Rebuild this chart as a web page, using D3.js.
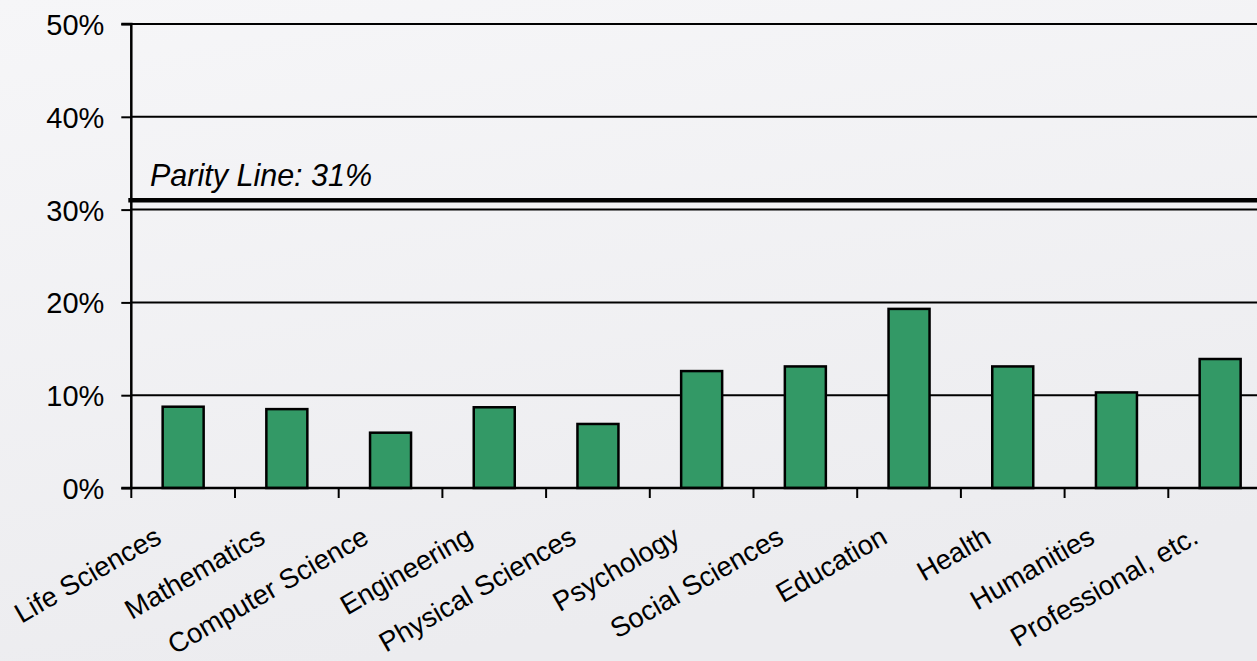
<!DOCTYPE html>
<html>
<head>
<meta charset="utf-8">
<script src="https://cdn.jsdelivr.net/npm/d3@7/dist/d3.min.js"></script>
<style>
  html, body { margin: 0; padding: 0; overflow: hidden; }
  body { width: 1257px; height: 661px; }
  svg { display: block; font-family: "Liberation Sans", Arial, sans-serif; }
</style>
</head>
<body>
<svg id="chart" width="1257" height="661"></svg>
<script>
// Field categories and their share (%)
const categories = [
  "Life Sciences", "Mathematics", "Computer Science", "Engineering",
  "Physical Sciences", "Psychology", "Social Sciences", "Education",
  "Health", "Humanities", "Professional, etc."
];
const shares = [8.76, 8.5, 5.96, 8.7, 6.9, 12.6, 13.1, 19.3, 13.1, 10.3, 13.9];
const yTicks = [0, 10, 20, 30, 40, 50];
const parityValue = 31;
const parityLabel = "Parity Line: 31%";

const svg = d3.select("#chart");
const W = 1257, H = 661;

// soft grey backdrop
const defs = svg.append("defs");
const grad = defs.append("linearGradient").attr("id", "bg")
  .attr("x1", 0).attr("y1", 0).attr("x2", 0.3).attr("y2", 1);
grad.append("stop").attr("offset", "0%").attr("stop-color", "#f6f6f8");
grad.append("stop").attr("offset", "100%").attr("stop-color", "#ececef");
svg.append("rect").attr("width", W).attr("height", H).attr("fill", "url(#bg)");

const plotLeft = 131.3, plotTop = 24, plotBottom = 488;
const step = 103.7;

const x = d3.scaleBand()
  .domain(categories)
  .range([plotLeft, plotLeft + step * categories.length])
  .paddingInner(0).paddingOuter(0);

const y = d3.scaleLinear().domain([0, 50]).range([plotBottom, plotTop]);

const g = svg.append("g");

// horizontal gridlines
g.selectAll("line.grid")
  .data(yTicks.filter(d => d > 0))
  .join("line")
  .attr("class", "grid")
  .attr("x1", plotLeft).attr("x2", W + 20)
  .attr("y1", d => y(d)).attr("y2", d => y(d))
  .attr("stroke", "#000").attr("stroke-width", 2);

// bars
const barW = 41;
g.selectAll("rect.bar")
  .data(categories)
  .join("rect")
  .attr("class", "bar")
  .attr("x", d => x(d) + x.bandwidth() / 2 - barW / 2)
  .attr("y", (d, i) => y(shares[i]))
  .attr("width", barW)
  .attr("height", (d, i) => y(0) - y(shares[i]))
  .attr("fill", "#339966")
  .attr("stroke", "#000")
  .attr("stroke-width", 2.5);

// parity line
g.append("line")
  .attr("x1", plotLeft - 3).attr("x2", W + 20)
  .attr("y1", y(parityValue)).attr("y2", y(parityValue))
  .attr("stroke", "#000").attr("stroke-width", 4.5);

g.append("text")
  .attr("x", 150).attr("y", y(parityValue) - 14)
  .attr("font-size", 30.5)
  .attr("font-style", "italic")
  .attr("fill", "#000")
  .text(parityLabel);

// y axis
const yAxis = d3.axisLeft(y)
  .tickValues(yTicks)
  .tickSize(10)
  .tickPadding(17)
  .tickFormat(d => d + "%");
const ya = svg.append("g")
  .attr("transform", `translate(${plotLeft},0)`)
  .call(yAxis);
ya.select(".domain").attr("stroke", "#000").attr("stroke-width", 2.5)
  .attr("d", `M-10,${plotTop}H0V${plotBottom}H-10`);
ya.selectAll(".tick line").attr("stroke", "#000").attr("stroke-width", 2);
ya.selectAll(".tick text")
  .attr("font-size", 29)
  .attr("dy", "0.36em")
  .attr("fill", "#000")
  .attr("font-family", "'Liberation Sans', Arial, sans-serif");

// x axis baseline and category ticks at band edges
const xa = svg.append("g");
xa.append("line")
  .attr("x1", plotLeft).attr("x2", W + 20)
  .attr("y1", plotBottom).attr("y2", plotBottom)
  .attr("stroke", "#000").attr("stroke-width", 2.5);
xa.selectAll("line.xtick")
  .data(categories)
  .join("line")
  .attr("class", "xtick")
  .attr("x1", d => x(d)).attr("x2", d => x(d))
  .attr("y1", plotBottom).attr("y2", plotBottom + 10)
  .attr("stroke", "#000").attr("stroke-width", 2);

// rotated category labels
xa.selectAll("text.xlab")
  .data(categories)
  .join("text")
  .attr("class", "xlab")
  .attr("transform", d => `translate(${x(d) + x.bandwidth() / 2 - 20},${plotBottom + 54}) rotate(-30)`)
  .attr("text-anchor", "end")
  .attr("font-size", 27.5)
  .attr("fill", "#000")
  .text(d => d);
</script>
</body>
</html>
